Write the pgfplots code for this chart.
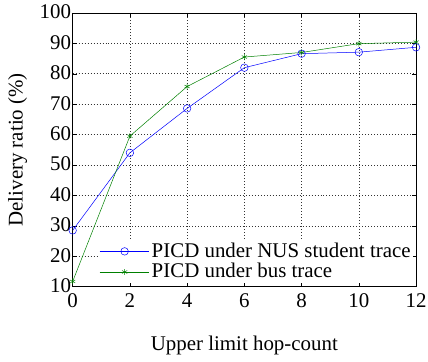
\documentclass[border=0pt]{standalone}
\usepackage{pgfplots}
\pgfplotsset{compat=1.18}
\usepackage{fontspec}
\setmainfont{Liberation Serif}
\begin{document}
\fontsize{21}{25}\selectfont
\begin{tikzpicture}
\begin{axis}[
  name=ax,
  scale only axis,
  width=345pt, height=275pt,
  xmin=0, xmax=12, ymin=10, ymax=100,
  xtick={0,2,...,12}, ytick={10,20,...,100},
  grid=major,
  major grid style={black!80, dash pattern=on 0.7pt off 2.3pt, line width=0.6pt},
  tick align=inside,
  tick style={black, line width=0.5pt},
  major tick length=4pt,
  axis line style={black, line width=0.7pt},
  /pgf/number format/assume math mode=true,
  ticklabel style={font=\fontsize{21}{25}\selectfont, inner sep=1.5pt},
  label style={font=\fontsize{21}{25}\selectfont},
  xticklabel style={yshift=-5pt},
  yticklabel style={yshift=1pt},
  xlabel={Upper limit hop-count},
  ylabel={Delivery ratio (\%)},
  xlabel style={at={(axis description cs:0.5,-0.215)}, anchor=center},
  ylabel style={at={(axis description cs:-0.16,0.5)}, anchor=center},
  legend style={at={(axis cs:0.93,11.2)}, anchor=south west, draw=none, fill=white,
    font=\fontsize{21}{25}\selectfont, inner sep=0pt, row sep=-1pt},
  legend cell align=left,
  legend image code/.code={
    \draw[#1] (0pt,0pt) -- (50pt,0pt);
    \draw[#1, mark repeat=1] plot coordinates {(25pt,0pt)};
  },
]
\addplot[color=blue, line width=0.5pt, mark=o, mark size=3.8pt, mark options={solid}]
coordinates {(0,28.5) (2,54) (4,68.6) (6,82) (8,86.6) (10,87.1) (12,88.7)};
\addlegendentry{PICD under NUS student trace}
\addplot[color={rgb,1:red,0;green,0.5;blue,0}, line width=0.5pt, mark=asterisk, mark size=3pt, mark options={solid}]
coordinates {(0,11.7) (2,59.5) (4,75.8) (6,85.5) (8,87) (10,89.9) (12,90.4)};
\addlegendentry{PICD under bus trace}
\end{axis}
\path (ax.south west) ++(-73pt,-67pt) (ax.north east) ++(0pt,13pt);
\end{tikzpicture}
\end{document}
